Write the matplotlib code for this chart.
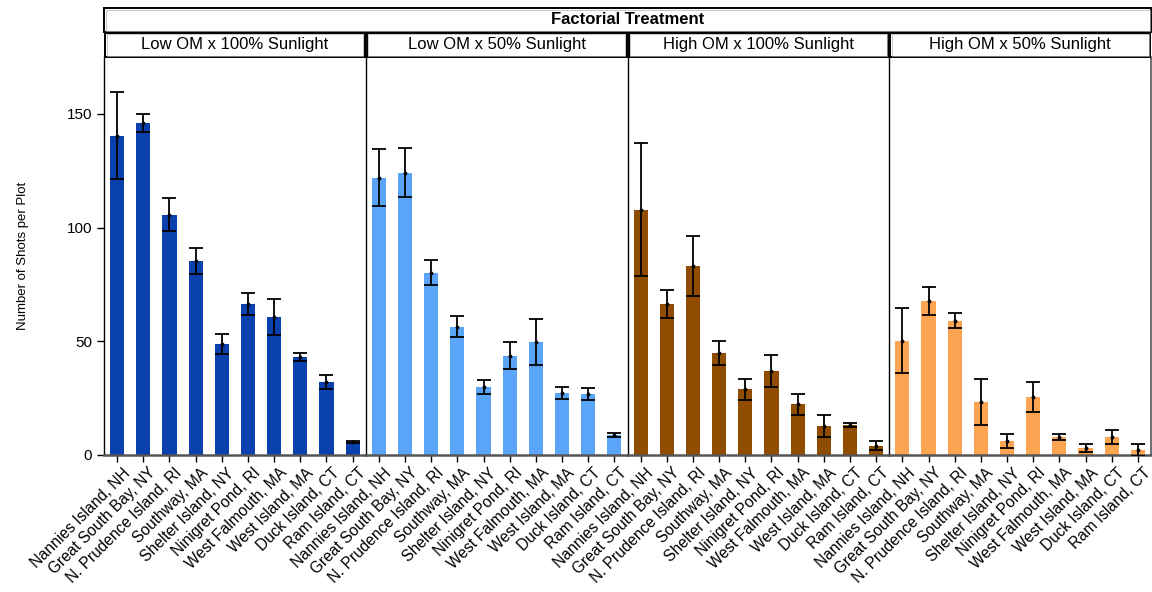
import matplotlib
matplotlib.use("Agg")
import matplotlib.pyplot as plt
import matplotlib.transforms as mtransforms
from matplotlib.patches import Rectangle
import numpy as np

plt.rcParams['font.family'] = ['Liberation Sans', 'DejaVu Sans']

sites = ["Nannies Island, NH", "Great South Bay, NY", "N. Prudence Island, RI",
         "Southway, MA", "Shelter Island, NY", "Ninigret Pond, RI",
         "West Falmouth, MA", "West Island, MA", "Duck Island, CT", "Ram Island, CT"]

treatments = ["Low OM x 100% Sunlight", "Low OM x 50% Sunlight",
              "High OM x 100% Sunlight", "High OM x 50% Sunlight"]

low_full_mean = [140.4, 146.1, 105.6, 85.3, 48.8, 66.4, 60.7, 43.1, 32.1, 5.7]
low_full_err = [19.0, 4.0, 7.2, 5.5, 4.6, 5.0, 8.1, 1.8, 3.0, 0.5]

low_half_mean = [121.9, 124.1, 80.2, 56.3, 29.9, 43.6, 49.7, 27.3, 26.8, 8.8]
low_half_err = [12.5, 10.7, 5.4, 4.6, 2.9, 6.0, 10.0, 2.5, 2.5, 0.7]

high_full_mean = [107.8, 66.4, 83.1, 44.9, 29.0, 37.0, 22.4, 12.8, 13.2, 4.0]
high_full_err = [29.3, 6.2, 13.1, 5.4, 4.6, 7.1, 4.6, 4.9, 1.0, 2.0]

high_half_mean = [50.3, 67.7, 59.1, 23.3, 6.2, 25.5, 7.9, 3.1, 7.9, 2.2]
high_half_err = [14.4, 6.1, 3.2, 10.0, 3.2, 6.8, 1.2, 1.6, 2.9, 2.5]

means = [low_full_mean, low_half_mean, high_full_mean, high_half_mean]
errs = [low_full_err, low_half_err, high_full_err, high_half_err]
colors = ["#0B41AF", "#5BA5F8", "#904C00", "#FCA452"]

W, H = 1152, 592
fig = plt.figure(figsize=(W / 100, H / 100), dpi=100)

left_px, right_px = 104, 1151
top_px, bottom_px = 57, 455
panel_w = (right_px - left_px) / 4

# nudge rotated site labels so they end just right of their tick
label_shift = mtransforms.ScaledTranslation(0.05, -0.02, fig.dpi_scale_trans)

x = np.arange(len(sites))
axes = []
for i in range(4):
    l = (left_px + i * panel_w) / W
    ax = fig.add_axes([l, 1 - bottom_px / H, panel_w / W, (bottom_px - top_px) / H])
    axes.append(ax)
    ax.bar(x, means[i], width=0.54, color=colors[i], zorder=2)
    ax.errorbar(x, means[i], yerr=errs[i], fmt='o', ms=1.8, color='black',
                ecolor='black', elinewidth=1.3, capsize=5, capthick=1.3, zorder=3)
    ax.set_xlim(-0.5, len(sites) - 0.5)
    ax.set_ylim(0, 175)
    ax.set_xticks(x)
    ax.set_xticklabels(sites, rotation=45, ha='right', va='top',
                       rotation_mode='anchor', fontsize=11.2)
    ax.tick_params(axis='x', length=5, width=1, direction='out', pad=1)
    for lbl in ax.get_xticklabels():
        lbl.set_transform(lbl.get_transform() + label_shift)
    ax.spines['top'].set_visible(False)
    ax.spines['bottom'].set_color('#555555')
    ax.spines['bottom'].set_linewidth(1.8)
    ax.spines['left'].set_color('black')
    ax.spines['left'].set_linewidth(1.0)
    ax.spines['right'].set_visible(i == 3)
    ax.spines['right'].set_color('#555555')
    ax.spines['right'].set_linewidth(1.2)
    if i == 0:
        ax.set_yticks([0, 50, 100, 150])
        ax.tick_params(axis='y', labelsize=11, length=5, width=1, direction='out')
        ax.set_ylabel("Number of Shots per Plot", fontsize=9.5, labelpad=27)
    else:
        ax.set_yticks([])

# Facet strips with a thin inner border
def strip(x0, y0, x1, y1, text, bold=False):
    outer = Rectangle((x0 / W, 1 - y1 / H), (x1 - x0) / W, (y1 - y0) / H,
                      transform=fig.transFigure, facecolor='white',
                      edgecolor='black', linewidth=1.4)
    fig.add_artist(outer)
    inner = Rectangle(((x0 + 1.5) / W, 1 - (y1 - 1.5) / H), (x1 - x0 - 3) / W,
                      (y1 - y0 - 3) / H, transform=fig.transFigure,
                      facecolor='none', edgecolor='#b0b0b0', linewidth=0.5)
    fig.add_artist(inner)
    fig.text((x0 + x1) / 2 / W, 1 - (y0 + y1) / 2 / H, text,
             ha='center', va='center', fontsize=12,
             fontweight='bold' if bold else 'normal')

strip(left_px, 8, right_px, 32, "Factorial Treatment", bold=True)
for i in range(4):
    strip(left_px + i * panel_w + 1, 33, left_px + (i + 1) * panel_w - 1, 57, treatments[i])

fig.savefig("out.png", dpi=100, facecolor='white')
